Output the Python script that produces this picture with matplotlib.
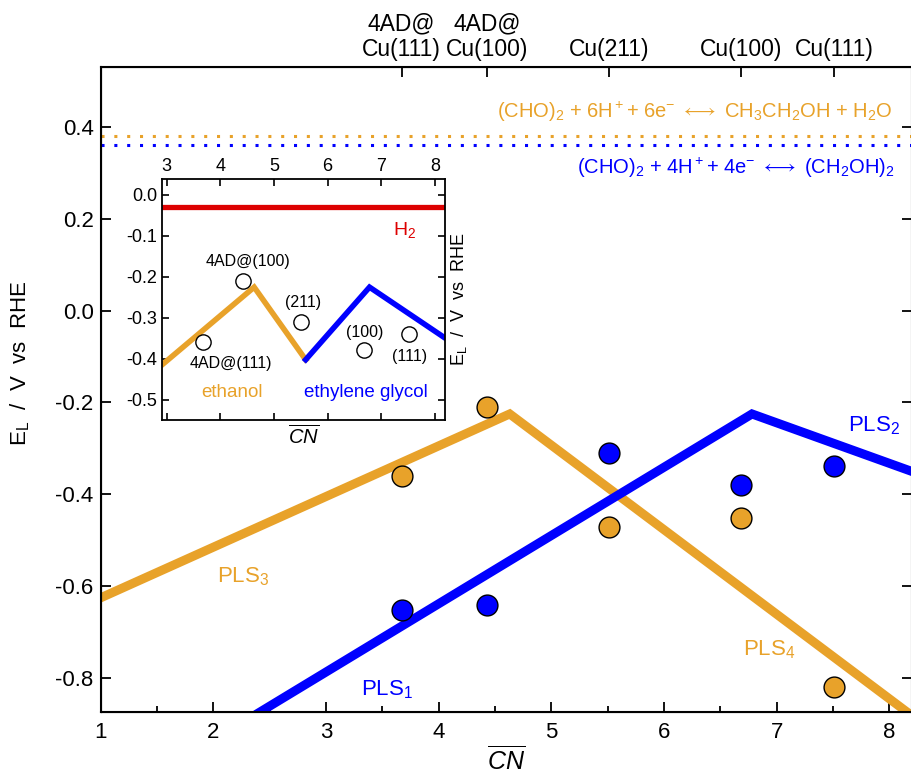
import matplotlib
matplotlib.use('Agg')
import matplotlib.pyplot as plt
import numpy as np

plt.rcParams['font.family'] = ['Liberation Sans', 'DejaVu Sans']
plt.rcParams['mathtext.fontset'] = 'custom'
plt.rcParams['mathtext.rm'] = 'Liberation Sans'
plt.rcParams['mathtext.it'] = 'Liberation Sans:italic'
plt.rcParams['mathtext.bf'] = 'Liberation Sans:bold'
plt.rcParams['mathtext.fallback'] = 'stixsans'
plt.rcParams['mathtext.default'] = 'regular'
plt.rcParams['axes.unicode_minus'] = False

# generalized coordination numbers of the sites
cn = [3.67, 4.43, 5.51, 6.68, 7.51]
site_labels = ['4AD@\nCu(111)', '4AD@\nCu(100)', 'Cu(211)', 'Cu(100)', 'Cu(111)']

# limiting potentials (V vs RHE)
el_ethanol = [-0.36, -0.21, -0.47, -0.452, -0.82]
el_glycol = [-0.652, -0.641, -0.309, -0.379, -0.339]
el_best = [-0.36, -0.211, -0.309, -0.378, -0.339]
best_labels = ['4AD@(111)', '4AD@(100)', '(211)', '(100)', '(111)']

# equilibrium potentials
eq_ethanol = 0.380
eq_glycol = 0.361
eq_h2 = -0.03

# potential-limiting-step scaling lines (vertices)
pls34_x = [1.0, 4.63, 8.3]
pls34_y = [-0.625, -0.225, -0.900]
pls12_x = [2.41, 6.78, 8.3]
pls12_y = [-0.874, -0.225, -0.359]

# inset volcano (envelope)
vol_eth_x = [2.9, 4.63, 5.59]
vol_eth_y = [-0.416, -0.225, -0.402]
vol_gly_x = [5.59, 6.78, 8.3]
vol_gly_y = [-0.402, -0.225, -0.359]

main_yticks = [-0.8, -0.6, -0.4, -0.2, 0.0, 0.2, 0.4]
main_ylabels = ['-0.8', '-0.6', '-0.4', '-0.2', '0.0', '0.2', '0.4']
ins_yticks = [-0.5, -0.4, -0.3, -0.2, -0.1, 0.0]
ins_ylabels = ['-0.5', '-0.4', '-0.3', '-0.2', '-0.1', '0.0']

orange = '#E8A22A'
blue = '#0000FF'
red = '#DD0000'

fig = plt.figure(figsize=(9.12, 7.77), dpi=100)
ax = fig.add_axes([0.1104, 0.0833, 0.8896, 0.8309])

ax.axhline(eq_ethanol, color=orange, lw=2.2, ls=(0, (1, 3.2)))
ax.axhline(eq_glycol, color=blue, lw=2.2, ls=(0, (1, 3.2)))

ax.plot(pls34_x, pls34_y, color=orange, lw=6.5, solid_joinstyle='miter', zorder=2)
ax.plot(pls12_x, pls12_y, color=blue, lw=6.5, solid_joinstyle='miter', zorder=2)

ax.plot(cn, el_ethanol, 'o', ms=15, mfc=orange, mec='black', mew=1.0, zorder=3)
ax.plot(cn, el_glycol, 'o', ms=15, mfc=blue, mec='black', mew=1.0, zorder=3)

ax.text(2.03, -0.58, 'PLS$_3$', color=orange, fontsize=16, ha='left', va='center')
ax.text(6.70, -0.738, 'PLS$_4$', color=orange, fontsize=16, ha='left', va='center')
ax.text(3.31, -0.825, 'PLS$_1$', color=blue, fontsize=16, ha='left', va='center')
ax.text(7.63, -0.25, 'PLS$_2$', color=blue, fontsize=16, ha='left', va='center')

ax.text(8.03, 0.433, r'(CHO)$_2$ + 6H$^+$+ 6e$^{-}$ $\longleftrightarrow$ CH$_3$CH$_2$OH + H$_2$O',
        color=orange, fontsize=14.5, ha='right', va='center')
ax.text(8.05, 0.310, r'(CHO)$_2$ + 4H$^+$+ 4e$^{-}$ $\longleftrightarrow$ (CH$_2$OH)$_2$',
        color=blue, fontsize=14.5, ha='right', va='center')

ax.set_xlim(1, 8.2)
ax.set_ylim(-0.874, 0.5305)
ax.set_xticks(np.arange(1, 9, 1))
ax.set_xticks(np.arange(1.5, 8.5, 1), minor=True)
ax.set_yticks(main_yticks)
ax.set_yticklabels(main_ylabels)
ax.tick_params(which='major', direction='in', length=7, width=1.3, labelsize=16,
               right=True, pad=5)
ax.tick_params(which='minor', direction='in', length=4, width=1.3, right=False)
ax.tick_params(axis='x', pad=7)
for s in ax.spines.values():
    s.set_linewidth(1.5)
ax.set_xlabel(r'$\overline{\mathit{CN}}$', fontsize=18, labelpad=2)
ax.set_ylabel('E$_L$  /  V  vs  RHE', fontsize=16)
ax.yaxis.set_label_coords(-0.085, 0.54)

top = ax.twiny()
top.set_xlim(ax.get_xlim())
top.set_xticks(cn)
top.set_xticklabels(site_labels, fontsize=16.5, linespacing=1.15)
top.tick_params(direction='in', length=7, width=1.3, pad=4)

# inset
ins = fig.add_axes([0.1773, 0.4595, 0.3106, 0.3102])
ins.set_facecolor('white')
ins.set_zorder(5)
ins.axhline(eq_h2, color=red, lw=3.8)
ins.plot(vol_eth_x, vol_eth_y, color=orange, lw=4, solid_joinstyle='miter')
ins.plot(vol_gly_x, vol_gly_y, color=blue, lw=4, solid_joinstyle='miter')
ins.plot(cn, el_best, 'o', ms=11, mfc='white', mec='black', mew=1.0, zorder=3)

lab_xy = [(4.19, -0.412), (4.52, -0.163), (5.54, -0.263), (6.69, -0.336), (7.53, -0.394)]
for (lx, ly), t in zip(lab_xy, best_labels):
    ins.text(lx, ly, t, fontsize=11.5, ha='center', va='center')
ins.text(7.44, -0.085, 'H$_2$', color=red, fontsize=14, ha='center', va='center')
ins.text(4.21, -0.482, 'ethanol', color=orange, fontsize=13.5, ha='center', va='center')
ins.text(6.72, -0.482, 'ethylene glycol', color=blue, fontsize=13.5, ha='center', va='center')

ins.set_xlim(2.907, 8.186)
ins.set_ylim(-0.549, 0.039)
ins.set_xticks(np.arange(3, 9, 1))
ins.set_yticks(ins_yticks)
ins.set_yticklabels(ins_ylabels)
ins.tick_params(direction='in', length=5, width=1.2, labelsize=13,
                top=True, right=True, labeltop=True, labelbottom=False, pad=3)
for s in ins.spines.values():
    s.set_linewidth(1.3)
ins.set_xlabel(r'$\overline{\mathit{CN}}$', fontsize=14.5, labelpad=3)
ins.yaxis.set_label_position('right')
ins.set_ylabel('E$_L$  /  V  vs  RHE', fontsize=13, rotation=90, labelpad=3)

fig.savefig('out.png', dpi=100)
